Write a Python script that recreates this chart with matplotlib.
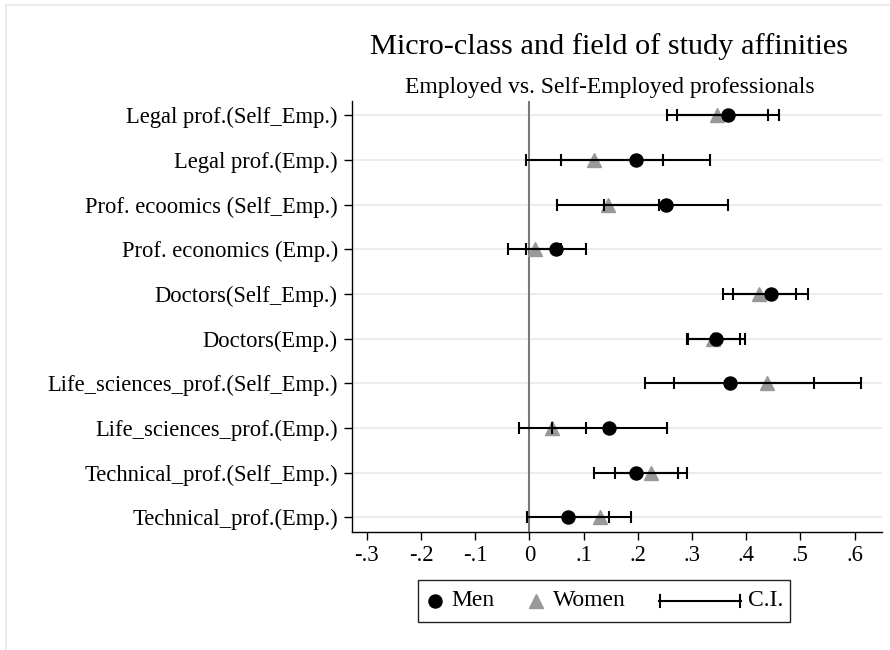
import matplotlib.pyplot as plt
from matplotlib.lines import Line2D
from matplotlib.patches import Rectangle
from matplotlib.offsetbox import DrawingArea, TextArea, HPacker, AnchoredOffsetbox

plt.rcParams['font.family'] = ['Liberation Serif', 'DejaVu Serif']

# categories, top to bottom
labels = ["Legal prof.(Self_Emp.)", "Legal prof.(Emp.)", "Prof. ecoomics (Self_Emp.)",
          "Prof. economics (Emp.)", "Doctors(Self_Emp.)", "Doctors(Emp.)",
          "Life_sciences_prof.(Self_Emp.)", "Life_sciences_prof.(Emp.)",
          "Technical_prof.(Self_Emp.)", "Technical_prof.(Emp.)"]

men = [0.367, 0.196, 0.252, 0.049, 0.445, 0.345, 0.370, 0.147, 0.197, 0.071]
men_lo = [0.272, 0.059, 0.138, -0.007, 0.375, 0.292, 0.213, 0.042, 0.119, -0.004]
men_hi = [0.461, 0.334, 0.366, 0.105, 0.514, 0.398, 0.526, 0.253, 0.275, 0.147]

women = [0.347, 0.120, 0.145, 0.010, 0.424, 0.339, 0.439, 0.042, 0.224, 0.131]
women_lo = [0.253, -0.007, 0.050, -0.039, 0.357, 0.291, 0.267, -0.020, 0.157, 0.074]
women_hi = [0.440, 0.247, 0.239, 0.058, 0.492, 0.388, 0.611, 0.105, 0.291, 0.188]

xticks = [-0.3, -0.2, -0.1, 0, 0.1, 0.2, 0.3, 0.4, 0.5, 0.6]
xticklabels = ["-.3", "-.2", "-.1", "0", ".1", ".2", ".3", ".4", ".5", ".6"]

n = len(labels)
ypos = list(range(n, 0, -1))

fig = plt.figure(figsize=(8.9, 6.5), dpi=100)
ax = fig.add_axes([0.3952, 0.1823, 0.5954, 0.6623])

# light frame around the graph region
fig.patches.append(Rectangle((6 / 890, -0.05), 1.1, 1 - 5 / 650 + 0.05, transform=fig.transFigure,
                             fill=False, edgecolor='#ececec', lw=1.5))

for y in ypos:
    ax.axhline(y, color='#eaeaea', lw=1.3, zorder=0)
ax.axvline(0, color='#7a7a7a', lw=1.5, zorder=1)

ax.plot(men, ypos, 'o', color='black', ms=9.4, zorder=3)
ax.plot(women, ypos, '^', color='#999999', ms=9.5, zorder=2)

for est, lo, hi in [(men, men_lo, men_hi), (women, women_lo, women_hi)]:
    err = [[e - l for e, l in zip(est, lo)], [h - e for e, h in zip(est, hi)]]
    ax.errorbar(est, ypos, xerr=err, fmt='none', ecolor='black', elinewidth=1.5,
                capsize=4.3, capthick=1.5, zorder=2.5)

ax.set_xlim(-0.328, 0.65)
ax.set_ylim(0.68, 10.32)
ax.set_xticks(xticks)
ax.set_xticklabels(xticklabels)
ax.set_yticks(ypos)
ax.set_yticklabels(labels)
ax.tick_params(axis='both', labelsize=16.3, length=6, width=1, direction='out', pad=4)
ax.tick_params(axis='x', pad=4)
for side in ['top', 'right']:
    ax.spines[side].set_visible(False)
for side in ['left', 'bottom']:
    ax.spines[side].set_linewidth(1)

fig.text(609 / 890, 1 - 47 / 650, "Micro-class and field of study affinities",
         ha='center', va='center', fontsize=21.8)
fig.text(610 / 890, 1 - 87 / 650, "Employed vs. Self-Employed professionals",
         ha='center', va='center', fontsize=17)

# legend built from offset boxes so the C.I. key can be wider than the markers
fs = 17
da_men = DrawingArea(14, 20, 0, 0)
da_men.add_artist(Line2D([7], [10], marker='o', color='black', ms=9.4, ls='none'))
da_wom = DrawingArea(14, 20, 0, 0)
da_wom.add_artist(Line2D([7], [10], marker='^', color='#999999', ms=9.5, ls='none'))
da_ci = DrawingArea(59, 20, 0, 0)
da_ci.add_artist(Line2D([0, 59], [10, 10], color='black', lw=1.5))
da_ci.add_artist(Line2D([0.6, 0.6], [5.7, 14.3], color='black', lw=1.5))
da_ci.add_artist(Line2D([58.4, 58.4], [5.7, 14.3], color='black', lw=1.5))

def spacer(w):
    return DrawingArea(w, 1, 0, 0)

tprops = dict(fontsize=fs)
row = HPacker(children=[da_men, TextArea("Men", textprops=tprops), spacer(13),
                        da_wom, TextArea("Women", textprops=tprops), spacer(14),
                        da_ci, TextArea("C.I.", textprops=tprops)],
              align='center', pad=0, sep=5)
leg = AnchoredOffsetbox(loc='center', child=row, pad=0.3, borderpad=0, frameon=True,
                        prop=dict(size=fs), bbox_to_anchor=(604 / 890, 1 - 601 / 650),
                        bbox_transform=fig.transFigure)
leg.patch.set_boxstyle('square,pad=0')
leg.patch.set_edgecolor('#222222')
leg.patch.set_linewidth(1)
fig.add_artist(leg)

fig.savefig('out.png', dpi=100, facecolor='white')
